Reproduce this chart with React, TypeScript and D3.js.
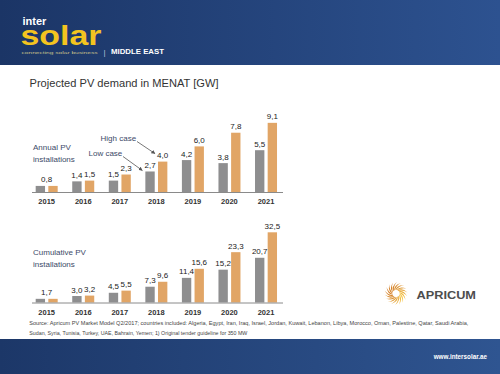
import React, { useRef, useEffect } from 'react';
import * as d3 from 'd3';

const years = ['2015', '2016', '2017', '2018', '2019', '2020', '2021'];
const seriesKeys = ['low', 'high'];
const annualLow = [0.8, 1.4, 1.5, 2.7, 4.2, 3.8, 5.5];
const annualHigh = [0.8, 1.5, 2.3, 4.0, 6.0, 7.8, 9.1];
const cumulativeLow = [1.7, 3.0, 4.5, 7.3, 11.4, 15.2, 20.7];
const cumulativeHigh = [1.7, 3.2, 5.5, 9.6, 15.6, 23.3, 32.5];

const W = 500;
const H = 374;
const FONT = '"Liberation Sans", Arial, sans-serif';
const GREY = '#8e8e8f';
const ORANGE = '#e1a566';

const fmt = d3.formatLocale({ decimal: ',', thousands: '.', grouping: [3], currency: ['', ''] }).format('.1f');

const App = () => {
  const svgRef = useRef<SVGSVGElement>(null);

  useEffect(() => {
    const svg = d3.select(svgRef.current)
      .attr('width', W)
      .attr('height', H)
      .html('');

    const defs = svg.append('defs');
    const grad = (id: string, a: string, b: string) => {
      const g = defs.append('linearGradient').attr('id', id).attr('x1', '0%').attr('x2', '100%').attr('y1', '0%').attr('y2', '0%');
      g.append('stop').attr('offset', '0%').attr('stop-color', a);
      g.append('stop').attr('offset', '100%').attr('stop-color', b);
    };
    grad('hdr', '#1b3566', '#2d5290');
    grad('ftr', '#1c3768', '#2f5591');

    svg.append('rect').attr('width', W).attr('height', H).attr('fill', '#fff');

    // Header band + logo
    svg.append('rect').attr('width', W).attr('height', 65).attr('fill', 'url(#hdr)');
    svg.append('text').attr('x', 22.5).attr('y', 25).attr('font-family', FONT).attr('font-weight', 'bold')
      .attr('font-size', 11).attr('fill', '#fff').text('inter');
    svg.append('text').attr('x', 20.5).attr('y', 45).attr('font-family', FONT).attr('font-weight', 'bold')
      .attr('font-size', 27).attr('fill', '#f3c41f')
      .attr('textLength', 81).attr('lengthAdjust', 'spacingAndGlyphs').text('solar');
    svg.append('text').attr('x', 21.5).attr('y', 53.5).attr('font-family', FONT)
      .attr('font-size', 4).attr('fill', '#c9c08a')
      .attr('textLength', 76).attr('lengthAdjust', 'spacingAndGlyphs').text('connecting solar business');
    svg.append('text').attr('x', 103.5).attr('y', 54.5).attr('font-family', FONT)
      .attr('font-size', 8).attr('fill', '#b8c4dc').text('|');
    svg.append('text').attr('x', 111).attr('y', 54).attr('font-family', FONT).attr('font-weight', 'bold')
      .attr('font-size', 7.5).attr('fill', '#fff')
      .attr('textLength', 53).attr('lengthAdjust', 'spacingAndGlyphs').text('MIDDLE EAST');

    // Title
    svg.append('text').attr('x', 29.5).attr('y', 86.5).attr('font-family', FONT)
      .attr('font-size', 11).attr('fill', '#333')
      .attr('textLength', 189).attr('lengthAdjust', 'spacingAndGlyphs')
      .text('Projected PV demand in MENAT [GW]');

    // Scales
    const x0 = d3.scaleBand().domain(years).range([28.4, 284.3]).padding(0);
    const x1 = d3.scaleBand().domain(seriesKeys).range([-11, 11]).paddingInner(0.26);

    const drawPanel = (low: number[], high: number[], y: d3.ScaleLinear<number, number>, label: string[], labelY: number) => {
      const g = svg.append('g');
      const base = y(0);
      const rows = years.map((yr, i) => ({ yr, values: [{ k: 'low', v: low[i], yr }, { k: 'high', v: high[i], yr }] }));

      const grp = g.selectAll('.grp').data(rows).enter().append('g')
        .attr('transform', d => `translate(${(x0(d.yr) as number) + x0.bandwidth() / 2},0)`);

      grp.selectAll('rect').data(d => d.values).enter().append('rect')
        .attr('x', d => x1(d.k) as number)
        .attr('y', d => y(d.v))
        .attr('width', x1.bandwidth())
        .attr('height', d => base - y(d.v))
        .attr('fill', d => (d.k === 'low' ? GREY : ORANGE));

      // 2015 has equal cases: one label centred over the pair
      grp.selectAll('.val').data(d => (d.yr === '2015' ? d.values.slice(0, 1) : d.values)).enter().append('text')
        .attr('x', d => (d.yr === '2015' ? 0 : (x1(d.k) as number) + x1.bandwidth() / 2))
        .attr('y', d => y(d.v) - 3.5)
        .attr('text-anchor', 'middle')
        .attr('font-family', FONT).attr('font-size', 8).attr('fill', '#222')
        .text(d => fmt(d.v));

      // baseline
      g.append('line').attr('x1', 32).attr('x2', 283).attr('y1', base + 0.5).attr('y2', base + 0.5)
        .attr('stroke', '#8a8a8a').attr('stroke-width', 1);

      // year labels
      g.selectAll('.yr').data(years).enter().append('text')
        .attr('x', d => (x0(d) as number) + x0.bandwidth() / 2)
        .attr('y', base + 12)
        .attr('text-anchor', 'middle')
        .attr('font-family', FONT).attr('font-weight', 'bold').attr('font-size', 7.5).attr('fill', '#333')
        .text(d => d);

      label.forEach((t, i) => {
        g.append('text').attr('x', 33).attr('y', labelY + i * 12.2)
          .attr('font-family', FONT).attr('font-size', 8).attr('fill', '#3c4a68').text(t);
      });
    };

    const yTop = d3.scaleLinear().domain([0, 10]).range([192, 116]);
    const yBot = d3.scaleLinear().domain([0, 35]).range([302.5, 226.9]);

    drawPanel(annualLow, annualHigh, yTop, ['Annual PV', 'installations'], 149.5);
    drawPanel(cumulativeLow, cumulativeHigh, yBot, ['Cumulative PV', 'installations'], 254.5);

    // Case annotations
    defs.append('marker').attr('id', 'arr').attr('viewBox', '0 0 10 10').attr('refX', 9).attr('refY', 5)
      .attr('markerWidth', 5).attr('markerHeight', 5).attr('orient', 'auto')
      .append('path').attr('d', 'M0,0L10,5L0,10Z').attr('fill', '#555');
    svg.append('text').attr('x', 100.5).attr('y', 140.5).attr('font-family', FONT)
      .attr('font-size', 8).attr('fill', '#3c4a68').text('High case');
    svg.append('text').attr('x', 88.5).attr('y', 155.5).attr('font-family', FONT)
      .attr('font-size', 8).attr('fill', '#3c4a68').text('Low case');
    const hx = (x0('2018') as number) + x0.bandwidth() / 2;
    svg.append('line').attr('x1', 137).attr('y1', 141.5).attr('x2', hx + (x1('high') as number) - 3).attr('y2', yTop(4.0) - 8)
      .attr('stroke', '#555').attr('stroke-width', 0.8).attr('marker-end', 'url(#arr)');
    svg.append('line').attr('x1', 123).attr('y1', 156.5).attr('x2', hx + (x1('low') as number) - 3).attr('y2', yTop(2.7) - 1)
      .attr('stroke', '#555').attr('stroke-width', 0.8).attr('marker-end', 'url(#arr)');

    // Apricum logo
    const cx = 396;
    const cy = 293.5;
    const blades = d3.range(18);
    const col = d3.interpolateRgb('#f6c84a', '#d4812a');
    svg.append('g').attr('transform', `translate(${cx},${cy})`)
      .selectAll('path').data(blades).enter().append('path')
      .attr('d', i => {
        const a = (i / blades.length) * Math.PI * 2;
        const p = (r: number, t: number) => `${r * Math.cos(t)},${r * Math.sin(t)}`;
        return `M${p(3.5, a)}Q${p(8.5, a + 0.25)} ${p(11.5, a + 0.95)}Q${p(8, a + 0.55)} ${p(3.5, a + 0.2)}Z`;
      })
      .attr('fill', i => col(Math.abs(Math.sin((i / blades.length) * Math.PI))));
    svg.append('text').attr('x', 416.5).attr('y', 299).attr('font-family', FONT)
      .attr('font-size', 11).attr('font-weight', 'bold').attr('fill', '#4d4d4d')
      .attr('textLength', 59.5).attr('lengthAdjust', 'spacingAndGlyphs').text('APRICUM');

    // Source
    const src = [
      'Source: Apricum PV Market Model Q2/2017; countries included: Algeria, Egypt, Iran, Iraq, Israel, Jordan, Kuwait, Lebanon, Libya, Morocco, Oman, Palestine, Qatar, Saudi Arabia,',
      'Sudan, Syria, Tunisia, Turkey, UAE, Bahrain, Yemen; 1) Original tender guideline for 350 MW',
    ];
    svg.append('text').attr('x', 29.3).attr('y', 325).attr('font-family', FONT).attr('font-size', 5.3)
      .attr('fill', '#444').attr('textLength', 439).attr('lengthAdjust', 'spacingAndGlyphs').text(src[0]);
    svg.append('text').attr('x', 29.3).attr('y', 335).attr('font-family', FONT).attr('font-size', 5.3)
      .attr('fill', '#444').text(src[1]);

    // Footer band
    svg.append('rect').attr('y', 339).attr('width', W).attr('height', H - 339).attr('fill', 'url(#ftr)');
    svg.append('text').attr('x', 487).attr('y', 359).attr('text-anchor', 'end').attr('font-family', FONT)
      .attr('font-size', 6.3).attr('font-weight', 'bold').attr('fill', '#fff').text('www.intersolar.ae');
  }, []);

  return <svg ref={svgRef} style={{ position: 'absolute', left: 0, top: 0 }} />;
};

export default App;
